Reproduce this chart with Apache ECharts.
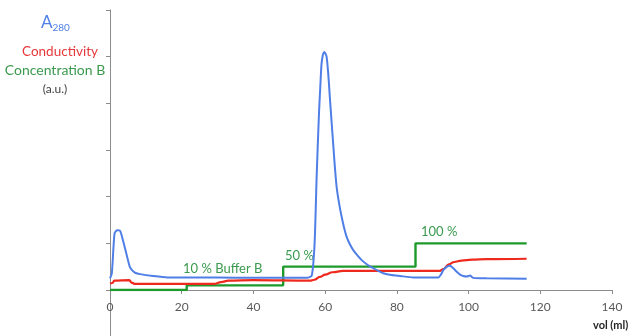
<!DOCTYPE html>
<html>
<head>
<meta charset="utf-8">
<script src="https://cdn.jsdelivr.net/npm/echarts@6/dist/echarts.min.js"></script>
<style>
  html, body { margin: 0; padding: 0; background: #fff; }
  #chart { width: 630px; height: 336px; }
</style>
</head>
<body>
<div id="chart"></div>
<script>
// Elution volume (ml) vs. signal (a.u.)
const xTicks = [0, 20, 40, 60, 80, 100, 120, 140];

// UV absorbance at 280 nm: [vol, a.u.]
const a280 = [
  [0, 0.25], [0.5, 0.35], [1, 0.95], [1.3, 1.22], [2, 1.28], [2.8, 1.27], [3.5, 1.1],
  [4.5, 0.8], [5.5, 0.5], [6.2, 0.42], [7, 0.37], [8.4, 0.34], [12, 0.3], [16, 0.27],
  [20, 0.27], [30, 0.27], [40, 0.26], [50, 0.26], [55, 0.26], [56.2, 0.3], [56.5, 0.42],
  [56.7, 0.57], [57, 0.9], [57.2, 1.28], [57.4, 1.8], [57.6, 2.36], [57.85, 2.9],
  [58.1, 3.43], [58.35, 3.9], [58.6, 4.28], [58.8, 4.6], [59, 4.85], [59.4, 5.05],
  [59.8, 5.1], [60.4, 5.0], [60.9, 4.6], [61.3, 4.14], [61.8, 3.6], [62.3, 3.07],
  [62.7, 2.65], [63.2, 2.21], [63.9, 1.85], [64.6, 1.57], [65.3, 1.33], [66, 1.14],
  [66.9, 0.98], [67.8, 0.86], [69, 0.74], [70.2, 0.64], [71.8, 0.54], [73.4, 0.47],
  [74.8, 0.41], [76.2, 0.36], [78.5, 0.32], [80.9, 0.30], [84.6, 0.27], [91.6, 0.27],
  [92.3, 0.33], [93, 0.43], [94, 0.5], [94.8, 0.52], [95.7, 0.47], [96.7, 0.39],
  [97.6, 0.33], [98.5, 0.3], [99.5, 0.29], [100.4, 0.31], [101.3, 0.26], [105, 0.25],
  [116.2, 0.24]
];

// Conductivity: [vol, a.u.]
const conductivity = [
  [0, 0.14], [0.7, 0.15], [1.2, 0.2], [5.4, 0.21], [6, 0.16], [7, 0.13], [29, 0.13],
  [31, 0.17], [33, 0.2], [40, 0.21], [55.8, 0.2], [57, 0.22], [58.5, 0.28], [60, 0.33],
  [62, 0.38], [65, 0.41], [92, 0.41], [93, 0.45], [94.5, 0.55], [96, 0.6], [98, 0.63],
  [101, 0.65], [105, 0.66], [116.2, 0.67]
];

// Buffer B concentration steps: [vol, fraction]
const concB = [
  [0, 0], [21.4, 0], [21.4, 0.1], [48.3, 0.1], [48.3, 0.5], [85.2, 0.5], [85.2, 1], [116.2, 1]
];

// Step annotations
const stepLabels = ['10 % Buffer B', '50 %', '100 %'];
const axisTitle = 'vol (ml)';

const chart = echarts.init(document.getElementById('chart'));
const FONT = 'Lato';
const AXIS_GREY = '#8c8c8c';

chart.setOption({
  animation: false,
  // main plot above zero, plus a thin strip below it carrying the axis stub
  grid: [
    { left: 110, right: 18, top: 10, height: 280, containLabel: false, outerBoundsMode: 'none' },
    { left: 110, right: 18, top: 290, height: 47, containLabel: false, outerBoundsMode: 'none' }
  ],
  xAxis: [
    {
      gridIndex: 0,
      type: 'value',
      min: xTicks[0],
      max: xTicks[xTicks.length - 1],
      interval: 20,
      axisLine: { lineStyle: { color: AXIS_GREY, width: 1 } },
      axisTick: { show: true, length: 4, lineStyle: { color: AXIS_GREY } },
      axisLabel: { color: '#595959', fontFamily: FONT, fontSize: 12, margin: 11, hideOverlap: false },
      splitLine: { show: false },
      z: 1
    },
    {
      gridIndex: 1, type: 'value', min: 0, max: 140, show: false
    }
  ],
  yAxis: [
    {
      gridIndex: 0,
      type: 'value',
      min: 0,
      max: 6,
      interval: 1,
      axisLine: { show: true, lineStyle: { color: AXIS_GREY, width: 1 } },
      axisTick: { show: true, length: 4, lineStyle: { color: AXIS_GREY } },
      axisLabel: { show: false },
      splitLine: { show: false }
    },
    {
      gridIndex: 1,
      type: 'value',
      min: -1,
      max: 0,
      interval: 1,
      axisLine: { show: true, lineStyle: { color: AXIS_GREY, width: 1 } },
      axisTick: { show: true, length: 4, lineStyle: { color: AXIS_GREY } },
      axisLabel: { show: false },
      splitLine: { show: false }
    }
  ],
  series: [
    {
      name: 'Concentration B', type: 'line', data: concB, showSymbol: false,
      lineStyle: { color: '#1e9a2c', width: 2.4 }, z: 2
    },
    {
      name: 'Conductivity', type: 'line', data: conductivity, showSymbol: false,
      smooth: 0.4, smoothMonotone: 'x',
      lineStyle: { color: '#ee2a1e', width: 2.2 }, z: 3
    },
    {
      name: 'A280', type: 'line', data: a280, showSymbol: false,
      smooth: 0.2,
      lineStyle: { color: '#4f7fe6', width: 2 }, z: 4
    }
  ],
  graphic: [
    {
      type: 'text', left: 41, top: 14,
      style: {
        text: '{a|A}{s|280}',
        rich: {
          a: { fontFamily: FONT, fontSize: 17, fill: '#4f7fe6' },
          s: { fontFamily: FONT, fontSize: 10, fill: '#4f7fe6', padding: [11, 0, 0, 0] }
        }
      }
    },
    { type: 'text', x: 60, y: 52, style: { text: 'Conductivity', fontFamily: FONT, fontSize: 13.5, fill: '#e8383a', align: 'center', verticalAlign: 'middle' } },
    { type: 'text', x: 55, y: 70, style: { text: 'Concentration B', fontFamily: FONT, fontSize: 14, fill: '#3b9a4f', align: 'center', verticalAlign: 'middle' } },
    { type: 'text', x: 55, y: 89, style: { text: '(a.u.)', fontFamily: FONT, fontSize: 12, fill: '#404040', align: 'center', verticalAlign: 'middle' } },
    { type: 'text', x: 183, y: 269, style: { text: stepLabels[0], fontFamily: FONT, fontSize: 13, fill: '#3b9a4f', verticalAlign: 'middle' } },
    { type: 'text', x: 285, y: 256, style: { text: stepLabels[1], fontFamily: FONT, fontSize: 13, fill: '#3b9a4f', verticalAlign: 'middle' } },
    { type: 'text', x: 421, y: 232, style: { text: stepLabels[2], fontFamily: FONT, fontSize: 13, fill: '#3b9a4f', verticalAlign: 'middle' } },
    { type: 'text', x: 593, y: 325, style: { text: axisTitle, fontFamily: FONT, fontSize: 11, fontWeight: 'bold', fill: '#262626', verticalAlign: 'middle' } }
  ]
});
</script>
</body>
</html>
